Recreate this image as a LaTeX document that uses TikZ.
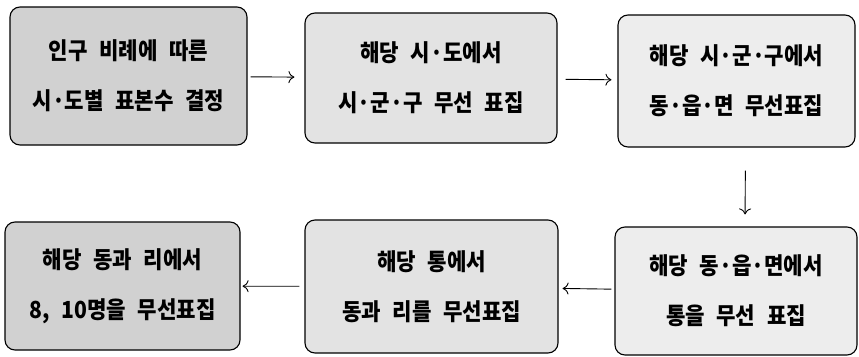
\documentclass[tikz,border=0pt]{standalone}
\usepackage{fontspec}
\usetikzlibrary{arrows.meta}
\newfontfamily\kr[WordSpace=2.4,FakeStretch=0.9]{Noto Sans CJK KR}
\begin{document}
\begin{tikzpicture}[x=1pt, y=-1pt, >={To[length=6pt,width=12pt]},
	box/.style = {draw, line width=1.1pt, rounded corners=10pt, align=center, inner sep=0pt,
		font=\kr\bfseries\fontsize{23.5}{50}\selectfont}]
	\useasboundingbox (0,0) rectangle (859,356);
	\node[box, fill=black!18, minimum width=237pt, minimum height=138pt] (a) at (128.5,76) {인구 비례에 따른\\시·도별 표본수 결정};
	\node[box, fill=black!11, minimum width=252pt, minimum height=130pt] (b) at (431,78) {해당 시·도에서\\시·군·구 무선 표집};
	\node[box, fill=black!7, minimum width=237pt, minimum height=132pt] (c) at (736.5,81) {해당 시·군·구에서\\동·읍·면 무선표집};
	\node[box, fill=black!7, minimum width=242pt, minimum height=128pt] (f) at (736,291) {해당 동·읍·면에서\\통을 무선 표집};
	\node[box, fill=black!11, minimum width=253pt, minimum height=133pt] (e) at (431.5,286.5) {해당 통에서\\동과 리를 무선표집};
	\node[box, fill=black!18, minimum width=235pt, minimum height=128pt] (d) at (122.5,286) {해당 동과 리에서\\8, 10명을 무선표집};
	
	\draw[->, line width=0.9pt, shorten <=3pt, shorten >=10pt] (a) -- (b);
	\draw[->, line width=0.9pt, shorten <=8pt, shorten >=6pt] (b) -- (c);
	\draw[->, line width=0.9pt, shorten <=23pt, shorten >=12pt] ([xshift=9pt]c.south) -- ([xshift=9pt]f.north);
	\draw[->, line width=0.9pt, shorten <=3pt, shorten >=4pt] (f) -- (e);
	\draw[->, line width=0.9pt, shorten <=5pt, shorten >=2pt] (e) -- (d);
\end{tikzpicture}
\end{document}
